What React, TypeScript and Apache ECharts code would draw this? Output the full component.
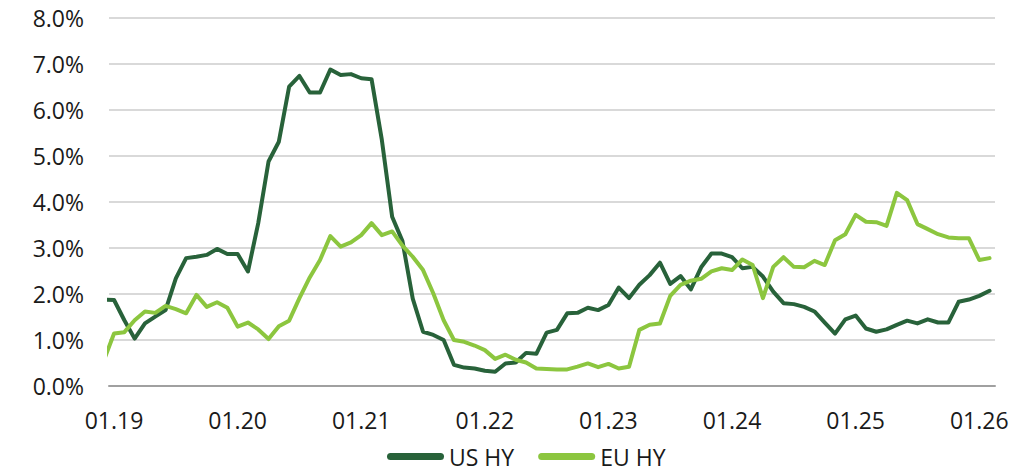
import React, { useEffect, useRef } from "react";
import * as echarts from "echarts";

// Month index: -1 = 12.18, 0 = 01.19 ... 85 = 02.26
const startIndex = -1;

const usHY = [
  1.88, 1.87, 1.43, 1.03, 1.36, 1.51, 1.65, 2.34, 2.78, 2.81, 2.85, 2.98, 2.87,
  2.87, 2.49, 3.54, 4.88, 5.31, 6.51, 6.74, 6.38, 6.38, 6.88, 6.76, 6.78, 6.69,
  6.67, 5.35, 3.68, 3.15, 1.90, 1.18, 1.11, 1.00, 0.46, 0.40, 0.38, 0.33, 0.31,
  0.49, 0.51, 0.72, 0.70, 1.16, 1.22, 1.58, 1.59, 1.70, 1.65, 1.76, 2.14, 1.91,
  2.20, 2.41, 2.68, 2.22, 2.39, 2.10, 2.58, 2.88, 2.88, 2.80, 2.56, 2.59, 2.38,
  2.05, 1.80, 1.78, 1.72, 1.62, 1.38, 1.14, 1.45, 1.53, 1.25, 1.18, 1.23, 1.33,
  1.42, 1.36, 1.45, 1.38, 1.38, 1.83, 1.88, 1.96, 2.07,
];

const euHY = [
  0.55, 1.14, 1.17, 1.43, 1.62, 1.59, 1.74, 1.67, 1.58, 1.98, 1.72, 1.82, 1.70,
  1.29, 1.38, 1.23, 1.02, 1.30, 1.42, 1.91, 2.36, 2.74, 3.26, 3.03, 3.12, 3.28,
  3.54, 3.28, 3.36, 3.05, 2.81, 2.52, 2.01, 1.43, 1.00, 0.96, 0.88, 0.78, 0.59,
  0.68, 0.57, 0.51, 0.38, 0.37, 0.36, 0.36, 0.42, 0.49, 0.41, 0.48, 0.38, 0.42,
  1.22, 1.33, 1.36, 1.96, 2.20, 2.29, 2.33, 2.49, 2.56, 2.52, 2.75, 2.63, 1.91,
  2.59, 2.80, 2.59, 2.58, 2.72, 2.63, 3.17, 3.30, 3.72, 3.57, 3.56, 3.48, 4.20,
  4.04, 3.52, 3.41, 3.30, 3.23, 3.21, 3.21, 2.74, 2.78,
];

const tickLabels = ["01.19", "01.20", "01.21", "01.22", "01.23", "01.24", "01.25", "01.26"];
const tickPositions = [0, 12, 24, 36, 48, 60, 72, 84];

const seriesNames = ["US HY", "EU HY"];
const colors = ["#28623a", "#8cc63f"];

const FONT = "'Open Sans', 'Noto Sans', sans-serif";
const legendIcon =
  "path://M3.5,0 L53.5,0 A3.5,3.5 0 0 1 53.5,7 L3.5,7 A3.5,3.5 0 0 1 3.5,0 Z";

export default function App() {
  const ref = useRef<HTMLDivElement>(null);

  useEffect(() => {
    if (!ref.current) return;
    const chart = echarts.init(ref.current, null, { renderer: "svg" });
    const toPairs = (arr: number[]) => arr.map((v, i) => [startIndex + i, v]);

    chart.setOption({
      animation: false,
      grid: { left: 109, right: 41, top: 18, bottom: 85, containLabel: false },
      legend: {
        left: 382,
        top: 440,
        itemWidth: 57,
        itemHeight: 7,
        itemGap: 24,
        icon: legendIcon,
        textStyle: { fontFamily: FONT, fontSize: 23, color: "#1a1a1a" },
        data: seriesNames,
      },
      xAxis: {
        type: "value",
        min: -0.49,
        max: 85.53,
        axisLine: { show: true, lineStyle: { color: "#a0a0a0", width: 2 } },
        axisTick: { show: false },
        splitLine: { show: false },
        axisLabel: {
          customValues: tickPositions,
          formatter: (v: number) => {
            const i = tickPositions.indexOf(Math.round(v));
            return i >= 0 ? tickLabels[i] : "";
          },
          fontFamily: FONT,
          fontSize: 23,
          color: "#1a1a1a",
          margin: 22,
        },
      },
      yAxis: {
        type: "value",
        min: 0,
        max: 8,
        interval: 1,
        axisLine: { show: false },
        axisTick: { show: false },
        splitLine: { lineStyle: { color: "#d9d9d9", width: 2 } },
        axisLabel: {
          formatter: (v: number) => v.toFixed(1) + "%",
          fontFamily: FONT,
          fontSize: 23,
          color: "#1a1a1a",
          margin: 25,
        },
      },
      series: [usHY, euHY].map((arr, k) => ({
        name: seriesNames[k],
        type: "line",
        data: toPairs(arr),
        symbol: "none",
        clip: true,
        color: colors[k],
        itemStyle: { color: colors[k] },
        lineStyle: { color: colors[k], width: 4, cap: "round", join: "round" },
      })),
    });
    return () => chart.dispose();
  }, []);

  return (
    <div
      ref={ref}
      style={{ position: "fixed", left: 0, top: 0, width: 1036, height: 471, background: "#fff" }}
    />
  );
}
